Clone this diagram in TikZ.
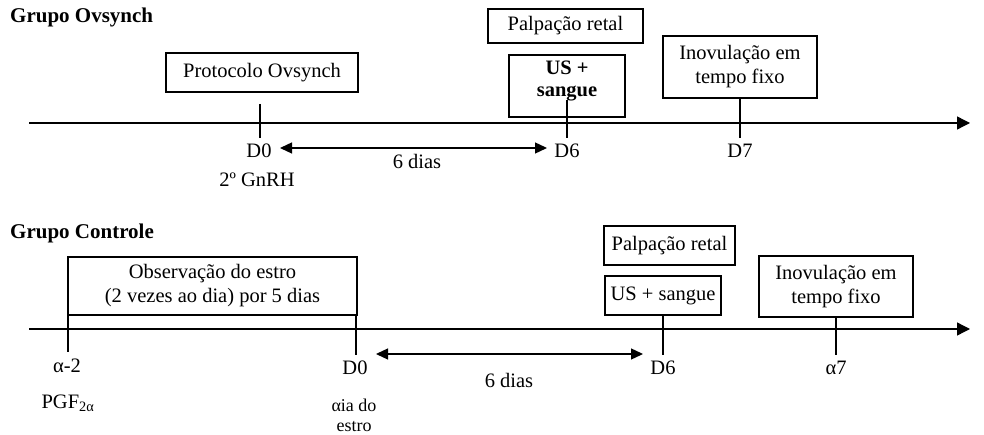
\documentclass[tikz,border=0pt]{standalone}
\usepackage{fontspec}
\setmainfont{Liberation Serif}
\usetikzlibrary{arrows.meta}
\begin{document}
\begin{tikzpicture}[x=1pt,y=-1pt,
  every node/.style={font=\fontsize{20.5}{24}\selectfont, inner sep=0pt},
  box/.style={draw, line width=1.3pt, align=center},
  ln/.style={line width=1.3pt},
  axis/.style={line width=1.3pt, -{Triangle[length=13pt,width=13pt]}},
  span/.style={line width=1.3pt, {Triangle[length=12pt,width=11pt]}-{Triangle[length=12pt,width=11pt]}},
  title/.style={font=\fontsize{21}{24}\selectfont\bfseries, anchor=west},
  boldtxt/.style={font=\fontsize{20.5}{22}\selectfont\bfseries, align=center},
  smalltxt/.style={font=\fontsize{18}{20}\selectfont, align=center}]
\useasboundingbox (0,0) rectangle (984,435);

% ---------- Grupo Ovsynch ----------
\node[title] (g1) at (10,17) {Grupo Ovsynch};
\node[box, minimum width=192pt, minimum height=39pt] (prot) at (262,72.5) {Protocolo Ovsynch};
\node[box, minimum width=155pt, minimum height=34pt] (palp1) at (565.5,26) {Palpação retal};
\node[box, minimum width=116pt, minimum height=62pt] (us1) at (567,86) {};
\node[boldtxt] (us1t) at (567,81) {US +\\sangue};
\node[box, minimum width=154pt, minimum height=62pt] (ino1) at (740,67) {Inovulação em\\tempo fixo};

\coordinate (a1s) at (29,123);
\coordinate (a1e) at (970,123);
\draw[axis] (a1s) -- (a1e);

\coordinate (t1a) at (260,104); \coordinate (t1b) at (260,138);
\coordinate (t2a) at (567,100); \coordinate (t2b) at (567,138);
\coordinate (t3a) at (740,98);  \coordinate (t3b) at (740,138);
\draw[ln] (t1a) -- (t1b);
\draw[ln] (t2a) -- (t2b);
\draw[ln] (t3a) -- (t3b);

\node (d0a) at (259,151) {D0};
\node (d6a) at (567,151) {D6};
\node (d7a) at (740,151) {D7};
\node (gnrh) at (257,180) {2º GnRH};
\node (dias1) at (417,161) {6 dias};
\coordinate (s1a) at (280,148); \coordinate (s1b) at (547,148);
\draw[span] (s1a) -- (s1b);

% ---------- Grupo Controle ----------
\node[title] (g2) at (10,233) {Grupo Controle};
\node[box, minimum width=289pt, minimum height=58pt] (obs) at (212.5,286) {Observação do estro\\(2 vezes ao dia) por 5 dias};
\node[box, minimum width=131pt, minimum height=39pt] (palp2) at (669.5,245.5) {Palpação retal};
\node[box, minimum width=116pt, minimum height=39pt] (us2) at (663,295.5) {US + sangue};
\node[box, minimum width=154pt, minimum height=61pt] (ino2) at (836,286.5) {Inovulação em\\tempo fixo};

\coordinate (a2s) at (29,329);
\coordinate (a2e) at (970,329);
\draw[axis] (a2s) -- (a2e);

\coordinate (u1a) at (68,315);  \coordinate (u1b) at (68,352);
\coordinate (u2a) at (356,315); \coordinate (u2b) at (356,355);
\coordinate (u3a) at (663,315); \coordinate (u3b) at (663,355);
\coordinate (u4a) at (836,317); \coordinate (u4b) at (836,355);
\draw[ln] (u1a) -- (u1b);
\draw[ln] (u2a) -- (u2b);
\draw[ln] (u3a) -- (u3b);
\draw[ln] (u4a) -- (u4b);

\node (am2) at (67,366) {α-2};
\node (pgf) at (68,403) {PGF\textsubscript{2α}};
\node (d0b) at (355,368) {D0};
\node[smalltxt] (dia) at (354,415) {αia do\\estro};
\node (d6b) at (663,368) {D6};
\node (a7) at (836,368) {α7};
\node (dias2) at (509,380) {6 dias};
\coordinate (s2a) at (376,354); \coordinate (s2b) at (643,354);
\draw[span] (s2a) -- (s2b);
\end{tikzpicture}
\end{document}
